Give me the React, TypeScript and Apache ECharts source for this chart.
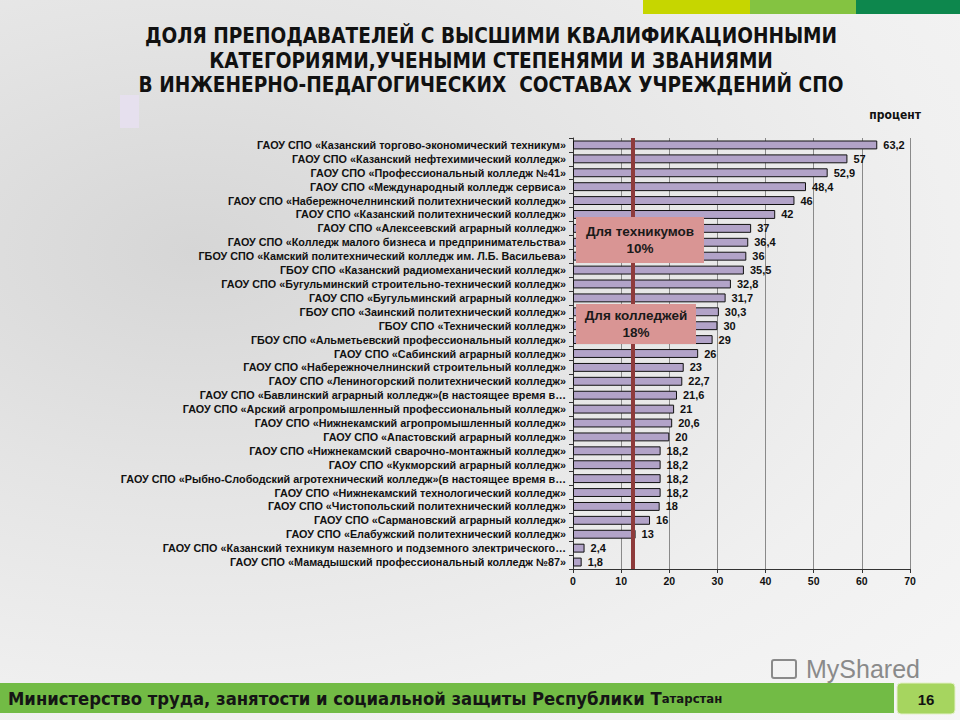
import React, { useEffect, useRef } from "react";
import * as echarts from "echarts";

const categories: string[] = [
  "ГАОУ СПО «Казанский торгово-экономический техникум»",
  "ГАОУ СПО «Казанский нефтехимический колледж»",
  "ГАОУ СПО «Профессиональный колледж №41»",
  "ГАОУ СПО «Международный колледж сервиса»",
  "ГАОУ СПО «Набережночелнинский политехнический колледж»",
  "ГАОУ СПО «Казанский политехнический колледж»",
  "ГАОУ СПО «Алексеевский аграрный колледж»",
  "ГАОУ СПО «Колледж малого бизнеса и предпринимательства»",
  "ГБОУ СПО «Камский политехнический колледж им. Л.Б. Васильева»",
  "ГБОУ СПО «Казанский радиомеханический колледж»",
  "ГАОУ СПО «Бугульминский строительно-технический колледж»",
  "ГАОУ СПО «Бугульминский аграрный колледж»",
  "ГБОУ СПО «Заинский политехнический колледж»",
  "ГБОУ СПО «Технический колледж»",
  "ГБОУ СПО «Альметьевский профессиональный колледж»",
  "ГАОУ СПО «Сабинский аграрный колледж»",
  "ГАОУ СПО «Набережночелнинский строительный колледж»",
  "ГАОУ СПО «Лениногорский политехнический колледж»",
  "ГАОУ СПО «Бавлинский аграрный колледж»(в настоящее время в…",
  "ГАОУ СПО «Арский агропромышленный профессиональный колледж»",
  "ГАОУ СПО «Нижнекамский агропромышленный колледж»",
  "ГАОУ СПО «Апастовский аграрный колледж»",
  "ГАОУ СПО «Нижнекамский сварочно-монтажный колледж»",
  "ГАОУ СПО «Кукморский аграрный колледж»",
  "ГАОУ СПО «Рыбно-Слободский агротехнический колледж»(в настоящее время в…",
  "ГАОУ СПО «Нижнекамский технологический колледж»",
  "ГАОУ СПО «Чистопольский политехнический колледж»",
  "ГАОУ СПО «Сармановский аграрный колледж»",
  "ГАОУ СПО «Елабужский политехнический колледж»",
  "ГАОУ СПО «Казанский техникум наземного и подземного электрического…",
  "ГАОУ СПО «Мамадышский профессиональный колледж №87»",
];

const values: number[] = [
  63.2, 57, 52.9, 48.4, 46, 42, 37, 36.4, 36, 35.5, 32.8, 31.7, 30.3, 30, 29, 26,
  23, 22.7, 21.6, 21, 20.6, 20, 18.2, 18.2, 18.2, 18.2, 18, 16, 13, 2.4, 1.8,
];

const referenceLine = 12.4;

const titleLines: string[] = [
  "ДОЛЯ ПРЕПОДАВАТЕЛЕЙ С ВЫСШИМИ КВАЛИФИКАЦИОННЫМИ",
  "КАТЕГОРИЯМИ,УЧЕНЫМИ СТЕПЕНЯМИ И ЗВАНИЯМИ",
  "В ИНЖЕНЕРНО-ПЕДАГОГИЧЕСКИХ  СОСТАВАХ УЧРЕЖДЕНИЙ СПО",
];

const unitLabel = "процент";
const boxTechnikum = "Для техникумов\n10%";
const boxCollege = "Для колледжей\n18%";
const footerMain = "Министерство труда, занятости и социальной защиты Республики Т";
const footerTail = "атарстан";
const pageNumber = "16";

const NARROW = "'DejaVu Sans Condensed', 'Liberation Sans Narrow', Arial, sans-serif";
const SANS = "'Liberation Sans', Arial, sans-serif";

export default function App() {
  const ref = useRef<HTMLDivElement>(null);

  useEffect(() => {
    if (!ref.current) return;
    const chart = echarts.init(ref.current, undefined, { renderer: "svg" });

    const option: any = {
      animation: false,
      grid: { left: 573, right: 50, top: 138, bottom: 151, containLabel: false },
      xAxis: {
        type: "value",
        min: 0,
        max: 70,
        interval: 10,
        axisLine: { show: true, lineStyle: { color: "#333", width: 1 } },
        axisTick: { show: true, length: 4, lineStyle: { color: "#333" } },
        axisLabel: { color: "#111", fontSize: 10.5, fontWeight: "bold", fontFamily: SANS, margin: 6 },
        splitLine: { show: true, lineStyle: { color: "#8a8a8a", width: 1 } },
      },
      yAxis: {
        type: "category",
        inverse: true,
        data: categories,
        axisLine: { show: true, lineStyle: { color: "#333", width: 1 } },
        axisTick: { show: true, length: 4, lineStyle: { color: "#333" } },
        axisLabel: {
          color: "#111",
          fontSize: 10.8,
          fontWeight: "bold",
          fontFamily: SANS,
          margin: 7,
          interval: 0,
        },
      },
      series: [
        {
          type: "bar",
          data: values,
          barCategoryGap: "36%",
          itemStyle: { color: "#b2a3c8", borderColor: "#111", borderWidth: 1 },
          label: {
            show: true,
            position: "right",
            distance: 6,
            color: "#111",
            fontSize: 11,
            fontWeight: "bold",
            fontFamily: SANS,
            formatter: (p: any) => String(p.value).replace(".", ","),
          },
          markLine: {
            silent: true,
            symbol: "none",
            label: { show: false },
            lineStyle: { color: "#8e3b3b", width: 4, type: "solid" },
            data: [{ xAxis: referenceLine }],
          },
          z: 2,
        },
      ],
      graphic: [
        { type: "rect", shape: { x: 643, y: 0, width: 107, height: 14 }, style: { fill: "#c6d600" }, z: 1 },
        { type: "rect", shape: { x: 750, y: 0, width: 106, height: 14 }, style: { fill: "#84c341" }, z: 1 },
        { type: "rect", shape: { x: 856, y: 0, width: 104, height: 14 }, style: { fill: "#0d874d" }, z: 1 },
        { type: "rect", shape: { x: 120, y: 95, width: 19, height: 33 }, style: { fill: "#e6e0ee" }, z: 1 },
        ...titleLines.map((t, i) => ({
          type: "text",
          x: 491,
          y: 36 + i * 24.5,
          style: {
            text: t,
            fill: "#111",
            font: `bold 20.6px ${NARROW}`,
            textAlign: "center",
            textVerticalAlign: "middle",
          },
          z: 10,
        })),
        {
          type: "text",
          x: 921,
          y: 115,
          style: { text: unitLabel, fill: "#111", font: `bold 12px ${NARROW}`, textAlign: "right", textVerticalAlign: "middle" },
          z: 10,
        },
        {
          type: "group",
          z: 20,
          children: [
            { type: "rect", shape: { x: 576, y: 217, width: 128, height: 46 }, style: { fill: "#d99594" }, z: 20 },
            {
              type: "text",
              x: 640,
              y: 240,
              style: {
                text: boxTechnikum,
                fill: "#1a1a1a",
                font: `bold 13.5px ${SANS}`,
                textAlign: "center",
                textVerticalAlign: "middle",
                lineHeight: 17,
              },
              z: 21,
            },
            { type: "rect", shape: { x: 576, y: 304, width: 120, height: 40 }, style: { fill: "#d99594" }, z: 20 },
            {
              type: "text",
              x: 636,
              y: 324,
              style: {
                text: boxCollege,
                fill: "#1a1a1a",
                font: `bold 13.5px ${SANS}`,
                textAlign: "center",
                textVerticalAlign: "middle",
                lineHeight: 17,
              },
              z: 21,
            },
          ],
        },
        {
          type: "text",
          x: 806,
          y: 669,
          style: { text: "MyShared", fill: "#8a8a8a", font: `25px ${SANS}`, textAlign: "left", textVerticalAlign: "middle" },
          z: 5,
        },
        { type: "rect", shape: { x: 772, y: 660, width: 24, height: 18, r: 2 }, style: { fill: "none", stroke: "#8a8a8a", lineWidth: 2 }, z: 5 },
        { type: "rect", shape: { x: 0, y: 683, width: 894, height: 30 }, style: { fill: "#72bb45" }, z: 6 },
        {
          type: "text",
          x: 8,
          y: 698,
          style: {
            text: `{a|${footerMain}}{b|${footerTail}}`,
            textVerticalAlign: "middle",
            rich: {
              a: { fill: "#151515", font: `bold 18.3px ${NARROW}` },
              b: { fill: "#151515", font: `bold 13px ${NARROW}` },
            },
          },
          z: 7,
        },
        {
          type: "rect",
          shape: { x: 897, y: 683, width: 58, height: 31, r: 4 },
          style: { fill: "#a6d55f", stroke: "#e3f0c8", lineWidth: 1 },
          z: 6,
        },
        {
          type: "text",
          x: 926,
          y: 699,
          style: { text: pageNumber, fill: "#111", font: `bold 15px ${SANS}`, textAlign: "center", textVerticalAlign: "middle" },
          z: 7,
        },
      ],
    };

    chart.setOption(option);
    return () => chart.dispose();
  }, []);

  return (
    <div
      style={{
        position: "absolute",
        left: 0,
        top: 0,
        width: 960,
        height: 720,
        background:
          "radial-gradient(ellipse at 20% 35%, #d6d6d6 0%, #e4e4e4 35%, #f0f0f0 70%, #f6f6f6 100%)",
      }}
    >
      <div ref={ref} style={{ width: 960, height: 720 }} />
    </div>
  );
}
